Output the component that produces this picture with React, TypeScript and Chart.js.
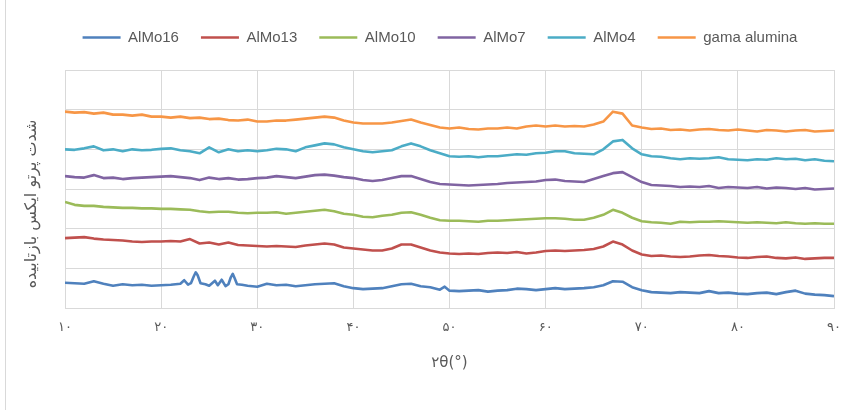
import React, { useEffect, useRef } from "react";
import { Chart, registerables } from "chart.js";

Chart.register(...registerables);

// ---------- data ----------
const SERIES_NAMES = ["AlMo16", "AlMo13", "AlMo10", "AlMo7", "AlMo4", "gama alumina"];
const COLORS = ["#4F81BD", "#C0504D", "#9BBB59", "#8064A2", "#4BACC6", "#F79646"];

const X_TICK_VALUES = [10, 20, 30, 40, 50, 60, 70, 80, 90];
const X_TICK_LABELS = ["۱۰", "۲۰", "۳۰", "۴۰", "۵۰", "۶۰", "۷۰", "۸۰", "۹۰"];
const X_TITLE = "۲θ(°)";
const Y_TITLE = "شدت پرتو ایکس بازتابیده";

// 2θ grid (degrees) shared by most series
const THETA = [
  10, 11, 12, 13, 14, 15, 16, 17, 18, 19,
  20, 21, 22, 23, 24, 25, 26, 27, 28, 29,
  30, 31, 32, 33, 34, 35, 36, 37, 38, 39,
  40, 41, 42, 43, 44, 45, 46, 47, 48, 49,
  50, 51, 52, 53, 54, 55, 56, 57, 58, 59,
  60, 61, 62, 63, 64, 65, 66, 67, 68, 69,
  70, 71, 72, 73, 74, 75, 76, 77, 78, 79,
  80, 81, 82, 83, 84, 85, 86, 87, 88, 89, 90,
];

const GAMA_ALUMINA = [
  198, 197, 197.5, 196, 197, 195, 195, 194, 195, 193,
  193, 192, 193, 191.5, 192, 190.5, 191, 189.5, 189, 190,
  188, 188, 189, 189, 190, 191, 192, 193, 192, 189,
  187, 186, 186, 186, 187, 188.5, 190, 187, 184.5, 182,
  181, 182, 180.5, 180, 181, 181, 182, 181, 183, 184,
  183, 184, 183, 183.5, 183, 185, 188, 198, 196, 184,
  182, 180.5, 181, 179.5, 180, 179, 180, 180.5, 179.5, 179,
  180, 179, 178, 179.5, 179, 178, 179, 179.5, 178, 178.5, 179,
];

const ALMO4 = [
  160, 159.5, 161, 163, 159, 160, 158, 160, 159, 159.5,
  160.5, 161, 159, 158, 156, 162, 157, 160, 158, 159,
  158, 159, 160.5, 160, 158, 162, 164, 166, 165, 162,
  160, 158, 157, 158, 159, 163, 166, 163, 159, 156,
  153, 152.5, 153, 152, 153, 153, 154, 155, 154.5, 156,
  156.5, 158, 158, 156, 155.5, 155, 160, 168, 169.5, 161,
  155, 153, 152.5, 151, 150, 151, 150.5, 151, 152, 150,
  149.5, 149, 150, 149.5, 151, 150, 150.5, 149, 150, 148.5, 148,
];

const ALMO7 = [
  133, 132, 131.5, 134, 131, 131.5, 130, 131, 131.5, 132,
  132.5, 133, 132, 131, 129, 131.5, 130, 131, 129.5, 130,
  131, 131.5, 133, 132, 131, 132.5, 134, 134.5, 133.5, 132,
  131, 129, 128, 129, 131, 133, 133, 130, 127, 125,
  124.5, 124, 123.5, 124, 124.5, 125, 126, 126.5, 127, 127.5,
  129, 129.5, 128, 127.5, 127, 130, 133, 136, 137, 132,
  127, 124, 123.5, 123, 122, 122.5, 122, 123, 121, 122,
  121.5, 121, 122, 120.5, 121.5, 121, 120, 121, 119.5, 120, 120.5,
];

const ALMO10 = [
  107, 104, 103, 103, 102, 101.5, 101, 101, 100.5, 100.5,
  100, 100, 99.5, 99, 97.5, 96.5, 97, 97, 96, 95.5,
  96, 96, 96.5, 95, 96, 97, 98, 99, 97.5, 95,
  94, 92, 91.5, 93, 94, 96, 96.5, 94, 91, 88.5,
  88, 88, 87.5, 87, 88, 88, 88.5, 89, 89.5, 90,
  90.5, 90.5, 90, 89, 89, 91, 94, 99, 96, 91,
  87.5, 86.5, 86, 85, 87, 86.5, 87, 87, 87.5, 87,
  86.5, 86, 86.5, 86, 85.5, 86.5, 85.5, 85, 85.5, 85, 85,
];

const ALMO13 = [
  70.5, 71, 71.5, 70, 69, 68.5, 68, 67, 66.5, 67,
  67, 67.5, 67, 69.5, 65, 66, 64, 66, 63.5, 63,
  62.5, 62, 62.5, 62, 61.5, 63, 64, 65, 64, 61,
  60, 59, 58, 58, 60, 64, 64, 61, 58, 56,
  55, 54.5, 55, 54.5, 55.5, 56, 55.5, 56.5, 55, 56,
  57.5, 58, 57.5, 58, 58.5, 59.5, 62, 67, 64, 58,
  54, 52.5, 53, 52, 51.5, 52, 53, 53.5, 52.5, 52,
  51, 50.5, 51.5, 52, 50.5, 50, 51, 49.5, 50, 50.5, 50.5,
];

// AlMo16 has sharp reflections, so it has its own 2θ list
const THETA_16 = [
  10, 11, 12, 13, 14, 15, 16, 17, 18, 19,
  20, 21, 22, 22.4, 22.8, 23.1, 23.4, 23.6, 23.8, 24.1, 24.6, 25,
  25.6, 25.9, 26.3, 26.7, 27.0, 27.25, 27.45, 27.65, 27.9, 28.4, 29,
  30, 31, 32, 33, 34, 35, 36, 37, 38, 39,
  40, 41, 42, 43, 44, 45, 46, 47, 48, 49, 49.5,
  50, 51, 52, 53, 54, 55, 56, 57, 58, 59,
  60, 61, 62, 63, 64, 65, 66, 67, 68, 69,
  70, 71, 72, 73, 74, 75, 76, 77, 78, 79,
  80, 81, 82, 83, 84, 85, 86, 87, 88, 89, 90,
];
const ALMO16 = [
  25.5, 25, 24.5, 27, 24.5, 22.5, 24, 23, 23.5, 22.5,
  23, 23.5, 24.5, 28, 23.5, 25, 32, 36, 33, 25, 24, 22.5,
  27.5, 23, 28.5, 22, 24, 31, 34.5, 30, 24, 23.5, 22.5,
  21.5, 24.5, 23, 23.5, 22, 23, 24, 24.5, 25, 22,
  20, 19, 19.5, 20, 22, 24, 24.5, 22, 21, 18.5, 21.5,
  17.5, 17, 17.5, 18, 16.5, 17.5, 18, 19.5, 19, 18,
  19, 20, 19, 19.5, 20, 21, 23, 27, 26.5, 21,
  18, 16, 15.5, 15, 16, 15.5, 15, 17, 15, 15.5,
  14.5, 14, 15, 15.5, 14, 16, 17.5, 14.5, 13.5, 13, 12,
];

const SERIES_X = [THETA_16, THETA, THETA, THETA, THETA, THETA];
const SERIES_Y = [ALMO16, ALMO13, ALMO10, ALMO7, ALMO4, GAMA_ALUMINA];

const TEXT_COLOR = "#595959";
const GRID_COLOR = "#d9d9d9";

export default function App() {
  const ref = useRef<HTMLCanvasElement>(null);

  useEffect(() => {
    const canvas = ref.current;
    if (!canvas) return;

    const yTitlePlugin = {
      id: "yTitleDraw",
      afterDraw(chart: any) {
        const ctx = chart.ctx as CanvasRenderingContext2D;
        ctx.save();
        ctx.translate(32, 204);
        ctx.rotate(-Math.PI / 2);
        ctx.font = '16px "DejaVu Sans", sans-serif';
        ctx.fillStyle = TEXT_COLOR;
        ctx.textAlign = "center";
        ctx.textBaseline = "middle";
        (ctx as any).direction = "rtl";
        ctx.fillText(Y_TITLE, 0, 0);
        ctx.restore();
      },
    };

    const legendSpacer = {
      id: "legendSpacer",
      beforeInit(chart: any) {
        const legend = chart.legend;
        if (!legend) return;
        const origFit = legend.fit;
        legend.fit = function (this: any) {
          origFit.call(this);
          this.height += 15;
        };
      },
    };

    const datasets = SERIES_NAMES.map((name, i) => ({
      label: name,
      data: SERIES_X[i].map((x, j) => ({ x, y: SERIES_Y[i][j] })),
      borderColor: COLORS[i],
      backgroundColor: COLORS[i],
      borderWidth: 2.6,
      pointRadius: 0,
      tension: 0,
      borderJoinStyle: "round" as const,
      fill: false,
    }));

    const chart = new Chart(canvas, {
      type: "line",
      data: { datasets },
      plugins: [yTitlePlugin, legendSpacer],
      options: {
        animation: false,
        responsive: false,
        layout: { padding: { left: 46, right: 19, top: 8, bottom: 33.4 } },
        plugins: {
          legend: {
            position: "top",
            labels: {
              usePointStyle: true,
              pointStyle: "line",
              pointStyleWidth: 38,
              boxHeight: 15,
              padding: 22,
              color: TEXT_COLOR,
              font: { family: "'Liberation Sans', Arial, sans-serif", size: 15 },
            },
          },
          tooltip: { enabled: false },
        },
        scales: {
          x: {
            type: "linear",
            min: 10,
            max: 90,
            afterBuildTicks: (scale: any) => {
              scale.ticks = X_TICK_VALUES.map((v) => ({ value: v }));
            },
            ticks: {
              padding: 12,
              color: TEXT_COLOR,
              font: { family: "'DejaVu Sans', sans-serif", size: 13 },
              callback: (v: any) => {
                const idx = X_TICK_VALUES.indexOf(Number(v));
                return idx >= 0 ? X_TICK_LABELS[idx] : "";
              },
            },
            grid: { color: GRID_COLOR, drawTicks: false, lineWidth: 1 },
            border: { color: GRID_COLOR },
            title: {
              display: true,
              text: X_TITLE,
              color: TEXT_COLOR,
              font: { family: "'DejaVu Sans', sans-serif", size: 15 },
              padding: { top: 7, bottom: 4 },
            },
          },
          y: {
            min: 0,
            max: 240,
            ticks: { stepSize: 40, display: false },
            grid: { color: GRID_COLOR, drawTicks: false, lineWidth: 1 },
            border: { display: false },
            afterFit: (scale: any) => {
              scale.width = 19;
            },
          },
        },
      },
    } as any);

    return () => chart.destroy();
  }, []);

  return (
    <div
      style={{
        position: "absolute",
        left: 0,
        top: 0,
        width: 853,
        height: 410,
        background: "#ffffff",
        overflow: "hidden",
      }}
    >
      <div
        style={{
          position: "absolute",
          left: 5,
          top: 0,
          width: 1,
          height: 410,
          background: GRID_COLOR,
        }}
      />
      <canvas
        ref={ref}
        width={853}
        height={410}
        style={{ position: "absolute", left: 0, top: 0, width: 853, height: 410 }}
      />
    </div>
  );
}
